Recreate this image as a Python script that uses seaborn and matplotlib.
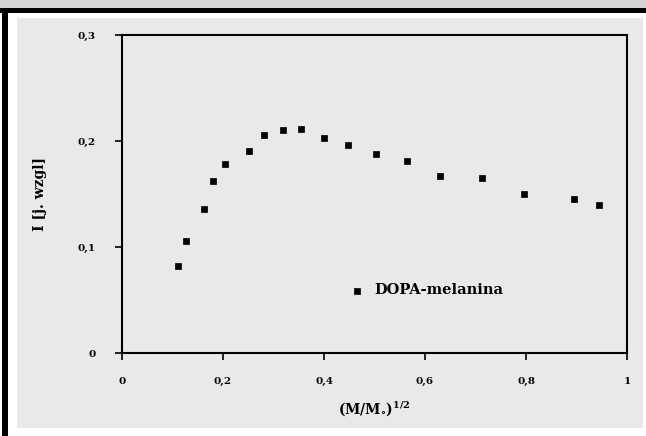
import matplotlib
matplotlib.use("Agg")
import matplotlib.pyplot as plt
import seaborn as sns
import pandas as pd
from matplotlib.patches import Rectangle
from matplotlib.ticker import FuncFormatter

# values
x_vals = [0.111, 0.127, 0.163, 0.181, 0.203, 0.252, 0.282, 0.318, 0.354,
          0.400, 0.447, 0.503, 0.565, 0.630, 0.712, 0.797, 0.895, 0.944]
y_vals = [0.082, 0.106, 0.136, 0.162, 0.178, 0.191, 0.206, 0.210, 0.211,
          0.203, 0.196, 0.188, 0.181, 0.167, 0.165, 0.150, 0.145, 0.140]
series_name = "DOPA-melanina"
x_ticks = [0, 0.2, 0.4, 0.6, 0.8, 1]
y_ticks = [0, 0.1, 0.2, 0.3]

df = pd.DataFrame({"x": x_vals, "y": y_vals})

sns.set_style("white")
plt.rcParams["font.family"] = ["DejaVu Serif"]
plt.rcParams["text.color"] = "black"
plt.rcParams["axes.labelcolor"] = "black"
plt.rcParams["xtick.color"] = "black"
plt.rcParams["ytick.color"] = "black"
plt.rcParams["mathtext.fontset"] = "custom"
plt.rcParams["mathtext.rm"] = "DejaVu Serif:bold"
plt.rcParams["mathtext.it"] = "DejaVu Serif:bold"
plt.rcParams["mathtext.bf"] = "DejaVu Serif:bold"

fig = plt.figure(figsize=(6.46, 4.36), dpi=100)
fig.patch.set_facecolor("white")

# frame decoration around the chart
def deco(x, y, w, h, color):
    r = Rectangle((x / 646, y / 436), w / 646, h / 436, transform=fig.transFigure,
                  facecolor=color, edgecolor="none", zorder=-10)
    fig.add_artist(r)

deco(0, 428, 646, 8, "#d3d3d3")
deco(0, 423, 646, 5, "black")
deco(2, 0, 6, 428, "black")
deco(17, 8, 626, 410, "#ebe8ec")

ax = fig.add_axes([122 / 646, 83 / 436, 505 / 646, 318 / 436])
ax.set_facecolor("#ebe8ec")

sns.scatterplot(data=df, x="x", y="y", ax=ax, marker="s", s=13, color="black",
                edgecolor="black", linewidth=0.5, label=series_name, zorder=3)

ax.set_xlim(0, 1)
ax.set_ylim(0, 0.3)
ax.set_xticks(x_ticks)
ax.set_yticks(y_ticks)
fmt = FuncFormatter(lambda v, p: ("%g" % v).replace(".", ","))
ax.xaxis.set_major_formatter(fmt)
ax.yaxis.set_major_formatter(fmt)
ax.tick_params(axis="both", direction="out", length=5, width=1.2, color="black",
               labelcolor="black", labelsize=7.5, bottom=True, left=True)
ax.tick_params(axis="x", pad=12)
ax.tick_params(axis="y", pad=14)
for lab in ax.get_xticklabels() + ax.get_yticklabels():
    lab.set_fontweight("bold")
for sp in ax.spines.values():
    sp.set_color("black")
    sp.set_linewidth(1.5)

ax.set_xlabel(r"(M/M$_{\circ}$)$^{1/2}$", fontsize=10, fontweight="bold", labelpad=10)
ax.set_ylabel("I [j. wzgl]", fontsize=10, fontweight="bold", labelpad=22)

leg = ax.legend(loc="upper left", bbox_to_anchor=(0.41, 0.26), frameon=False,
                handletextpad=0.2, markerscale=1.0, labelcolor="black",
                prop={"family": "DejaVu Serif", "weight": "bold", "size": 10.5})

fig.savefig("out.png", dpi=100, facecolor=fig.get_facecolor())
